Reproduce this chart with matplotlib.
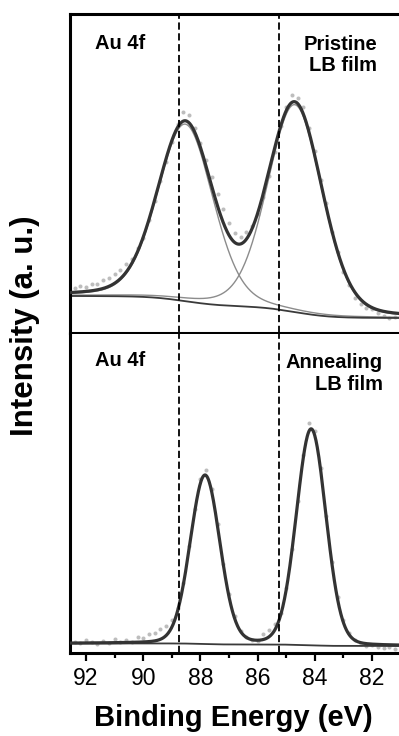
import numpy as np
import matplotlib.pyplot as plt
from matplotlib.ticker import MultipleLocator

plt.rcParams['font.family'] = ['Liberation Sans', 'DejaVu Sans']

# Measured Au 4f spectra (binding energy in eV, intensity in a.u.)
energy = np.round(np.arange(92.4, 81.1, -0.2), 1)

pristine_counts = [14.0, 14.6, 14.4, 15.4, 15.5, 16.6, 17.2, 18.4, 19.6, 21.7,
                   23.1, 26.6, 29.7, 35.4, 41.5, 47.7, 53.6, 59.9, 65.4, 69.2,
                   68.3, 64.4, 59.7, 54.3, 48.9, 43.6, 38.8, 34.4, 31.4, 30.2,
                   31.6, 33.4, 37.4, 42.7, 49.2, 56.7, 65.0, 70.8, 74.7, 73.8,
                   70.8, 64.4, 57.2, 47.9, 40.6, 31.8, 25.4, 19.1, 15.0, 11.1,
                   9.1, 7.8, 7.4, 6.2, 5.4, 4.7, 5.0]

annealed_counts = [3.5, 3.2, 4.0, 3.4, 2.9, 3.8, 3.1, 4.5, 3.6, 4.2,
                   3.5, 5.0, 4.6, 5.8, 6.2, 7.4, 8.6, 10.5, 14.0, 22.0,
                   33.5, 45.0, 54.5, 57.5, 51.5, 40.5, 28.0, 18.5, 11.5, 7.0,
                   5.0, 4.0, 3.8, 6.0, 7.2, 9.0, 12.5, 20.5, 32.5, 47.8,
                   62.0, 72.0, 69.5, 58.0, 43.0, 28.5, 17.5, 10.2, 6.2, 4.0,
                   2.8, 2.2, 2.4, 1.8, 1.5, 1.9, 1.3]

# Fitted 4f5/2 and 4f7/2 components (pseudo-Voigt) and Shirley end points
pristine_centers = [88.53, 84.70]
pristine_heights = [55.5, 65.0]
pristine_fwhm = [2.28, 2.25]
pristine_eta = 0.2
pristine_bg = (11.6, 4.7)   # (high BE side, low BE side)

annealed_centers = [87.84, 84.13]
annealed_heights = [52.8, 67.7]
annealed_fwhm = [1.22, 1.22]
annealed_eta = 0.1
annealed_bg = (3.0, 2.2)

ref_lines = [88.75, 85.25]
x_lim = (92.56, 81.06)


def pseudo_voigt(x, c, h, w, eta):
    r = 4.0 * (x - c) ** 2 / w ** 2
    return h * ((1 - eta) * np.exp(-np.log(2) * r) + eta / (1 + r))


def fit_curves(centers, heights, fwhm, eta, bg):
    x = np.linspace(81.0, 92.6, 800)
    comps = [pseudo_voigt(x, c, h, w, eta) for c, h, w in zip(centers, heights, fwhm)]
    total = np.sum(comps, axis=0)
    cum = np.cumsum(total)
    shirley = bg[1] + (bg[0] - bg[1]) * cum / cum[-1]
    return x, shirley, [shirley + p for p in comps], shirley + total


fig = plt.figure(figsize=(3.99, 7.36), dpi=100)
ax_top = fig.add_axes([70 / 399, 1 - 333 / 736, 329 / 399, 319 / 736])
ax_bot = fig.add_axes([70 / 399, 1 - 653 / 736, 329 / 399, 319 / 736])

panels = [
    (ax_top, pristine_counts, pristine_centers, pristine_heights, pristine_fwhm,
     pristine_eta, pristine_bg, True),
    (ax_bot, annealed_counts, annealed_centers, annealed_heights, annealed_fwhm,
     annealed_eta, annealed_bg, False),
]

for ax, counts, cen, hgt, fw, eta, bg, show_comps in panels:
    x, shirley, comps, envelope = fit_curves(cen, hgt, fw, eta, bg)
    ax.plot(energy, counts, 'o', color='#bdbdbd', markersize=2.9,
            markeredgewidth=0, zorder=1)
    if show_comps:
        for c in comps:
            ax.plot(x, c, color='#8c8c8c', linewidth=1.0, zorder=2)
    ax.plot(x, shirley, color='#3a3a3a', linewidth=1.3, zorder=2)
    ax.plot(x, envelope, color='#333333', linewidth=2.3, zorder=3)
    for e in ref_lines:
        ax.axvline(e, color='black', linestyle=(0, (4, 2)), linewidth=1.3, zorder=4)
    ax.set_xlim(*x_lim)
    ax.set_ylim(0, 100)
    ax.set_yticks([])
    for side in ('left', 'top', 'bottom'):
        ax.spines[side].set_linewidth(2.2)
    ax.spines['right'].set_visible(False)

ax_top.set_xticks([])
ax_bot.spines['top'].set_visible(False)

ax_bot.xaxis.set_major_locator(MultipleLocator(2))
ax_bot.xaxis.set_minor_locator(MultipleLocator(1))
ax_bot.tick_params(axis='x', which='major', direction='out', length=6, width=1.6,
                   labelsize=16.5, pad=4)
ax_bot.tick_params(axis='x', which='minor', direction='out', length=3.5, width=1.6)

ax_top.text(0.076, 0.909, 'Au 4f', transform=ax_top.transAxes, fontsize=14.5,
            fontweight='bold', ha='left', va='center')
ax_top.text(0.933, 0.871, 'Pristine\nLB film', transform=ax_top.transAxes,
            fontsize=14.5, fontweight='bold', ha='right', va='center',
            multialignment='right', linespacing=1.15)
ax_bot.text(0.076, 0.918, 'Au 4f', transform=ax_bot.transAxes, fontsize=14.5,
            fontweight='bold', ha='left', va='center')
ax_bot.text(0.951, 0.876, 'Annealing\nLB film', transform=ax_bot.transAxes,
            fontsize=14.5, fontweight='bold', ha='right', va='center',
            multialignment='right', linespacing=1.15)

fig.text(0.584, 1 - 718 / 736, 'Binding Energy (eV)', fontsize=21,
         fontweight='bold', ha='center', va='center')
fig.text(25 / 399, 1 - 326 / 736, 'Intensity (a. u.)', fontsize=22.5,
         fontweight='bold', ha='center', va='center', rotation=90)

fig.savefig('out.png', dpi=100)
